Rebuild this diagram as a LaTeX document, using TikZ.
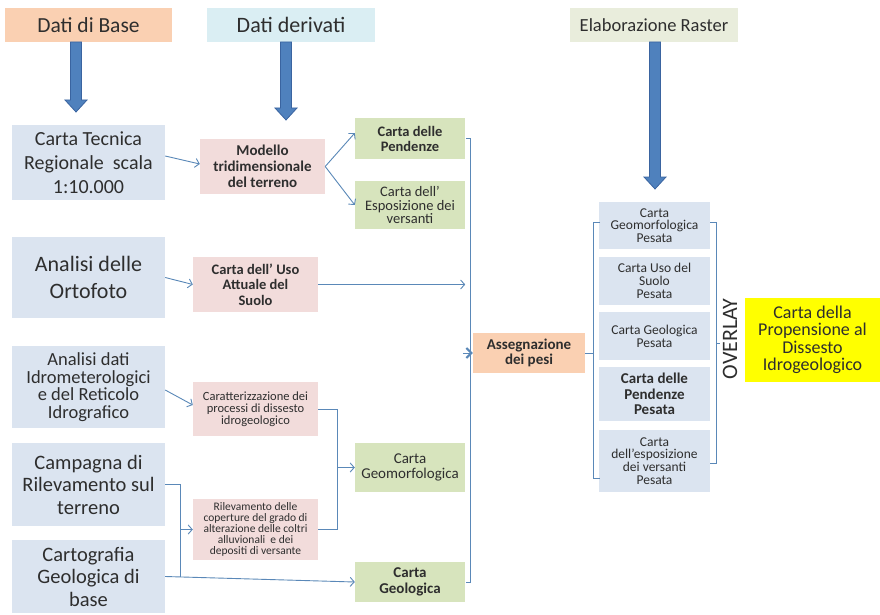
\documentclass[tikz,border=0pt]{standalone}
\usepackage{fontspec}
\setmainfont{Carlito}
\usetikzlibrary{arrows.meta}
\definecolor{txt}{HTML}{2E2E2E}
\definecolor{peach}{HTML}{FAD0B2}
\definecolor{hblue}{HTML}{DAEEF3}
\definecolor{hgreen}{HTML}{E9EDDC}
\definecolor{lblue}{HTML}{DBE4F0}
\definecolor{pink}{HTML}{F2DCDB}
\definecolor{lgreen}{HTML}{D7E4BD}
\definecolor{ylw}{HTML}{FFFF00}
\definecolor{lnk}{HTML}{5A88B8}
\definecolor{arrfill}{HTML}{4F81BD}
\definecolor{arrdraw}{HTML}{3A64A0}
\tikzset{
  box/.style={inner sep=1pt, align=center, text=txt, draw=none},
  fs/.style 2 args={font=\fontsize{#1}{#2}\selectfont},
  fsb/.style 2 args={font=\fontsize{#1}{#2}\selectfont\bfseries},
  conn/.style={draw=lnk, line width=0.9pt},
  arr/.style={conn, -{Straight Barb[length=4pt,width=9pt]}},
  bigarr/.style={fill=arrfill, draw=arrdraw, line width=0.8pt},
}
\newcommand\bigdownarrow[3]{%
  \filldraw[bigarr] ({#1-5.5},#2) -- ({#1+5.5},#2) -- ({#1+5.5},{#3-12}) -- ({#1+11},{#3-12}) -- (#1,#3) -- ({#1-11},{#3-12}) -- ({#1-5.5},{#3-12}) -- cycle;}
\begin{document}
\begin{tikzpicture}[x=1pt,y=-1pt]
\useasboundingbox[fill=white] (0,0) rectangle (880,615);

% headers
\node[box, fill=peach, fs={21.5}{24}, minimum width=167, minimum height=34] (hb) at (88.5,25) {Dati di Base};
\node[box, fill=hblue, fs={22}{24}, minimum width=168, minimum height=34] (hd) at (291,25) {Dati derivati};
\node[box, fill=hgreen, fs={18.5}{22}, minimum width=168, minimum height=34] (he) at (654,25) {Elaborazione Raster};

\bigdownarrow{76}{42}{112}
\bigdownarrow{286}{42}{120}
\bigdownarrow{655}{42}{189}

% left column
\node[box, fill=lblue, fs={20}{24}, minimum width=153, minimum height=75] (ctr) at (88.5,162.5) {Carta Tecnica\\Regionale\ \ scala\\1:10.000};
\node[box, fill=lblue, fs={22}{27}, minimum width=153, minimum height=81] (orto) at (88.5,277.5) {Analisi delle\\Ortofoto};
\node[box, fill=lblue, fs={18.5}{17.5}, minimum width=153, minimum height=82] (idro) at (88.5,387) {Analisi dati\\Idrometerologici\\e del Reticolo\\Idrografico};
\node[box, fill=lblue, fs={20.5}{22.5}, minimum width=153, minimum height=83] (camp) at (88.5,484.5) {Campagna di\\Rilevamento sul\\terreno};
\node[box, fill=lblue, fs={20.5}{22.5}, minimum width=153, minimum height=73] (cart) at (88.5,576.5) {Cartografia\\Geologica di\\base};

% pink column
\node[box, fill=pink, fsb={15}{16}, minimum width=125, minimum height=55] (mod) at (262.5,166.5) {Modello\\tridimensionale\\del terreno};
\node[box, fill=pink, fsb={14.5}{15.5}, minimum width=125, minimum height=55] (uso) at (255.5,284.5) {Carta dell' Uso\\Attuale del\\Suolo};
\node[box, fill=pink, fs={12.5}{12}, minimum width=125, minimum height=54] (car) at (255.5,409) {Caratterizzazione dei\\processi di dissesto\\idrogeologico};
\node[box, fill=pink, fs={11.5}{10.8}, minimum width=125, minimum height=61] (ril) at (255.5,529.5) {Rilevamento delle\\coperture del grado di\\alterazione delle coltri\\alluvionali\ \ e dei\\depositi di versante};

% green column
\node[box, fill=lgreen, fsb={14.5}{15}, minimum width=110, minimum height=41] (pen) at (410,138.5) {Carta delle\\Pendenze};
\node[box, fill=lgreen, fs={14.5}{13.5}, minimum width=110, minimum height=48] (esp) at (410,205) {Carta dell'\\Esposizione dei\\versanti};
\node[box, fill=lgreen, fs={15}{15}, minimum width=110, minimum height=49] (geom) at (410,467.5) {Carta\\Geomorfologica};
\node[box, fill=lgreen, fsb={15}{16}, minimum width=110, minimum height=40] (geo) at (410,582) {Carta\\Geologica};

% assegnazione
\node[box, fill=peach, fsb={15}{15.5}, minimum width=112, minimum height=40] (ass) at (529,353) {Assegnazione\\dei pesi};

% right column
\node[box, fill=lblue, fs={13.5}{12.8}, minimum width=111, minimum height=47] (p1) at (654.5,225.5) {Carta\\Geomorfologica\\Pesata};
\node[box, fill=lblue, fs={13.5}{12.8}, minimum width=111, minimum height=48] (p2) at (654.5,281) {Carta Uso del\\Suolo\\Pesata};
\node[box, fill=lblue, fs={13.5}{13}, minimum width=111, minimum height=48] (p3) at (654.5,336) {Carta Geologica\\Pesata};
\node[box, fill=lblue, fsb={15}{15.5}, minimum width=111, minimum height=54] (p4) at (654.5,394) {Carta delle\\Pendenze\\Pesata};
\node[box, fill=lblue, fs={13.5}{12.8}, minimum width=111, minimum height=62] (p5) at (654.5,461) {Carta\\dell'esposizione\\dei versanti\\Pesata};

% overlay + result
\node[box, fs={22}{24}, rotate=90] (ovl) at (730,339) {OVERLAY};
\node[box, fill=ylw, fs={18}{17.5}, minimum width=135, minimum height=84] (res) at (812.5,340) {Carta della\\Propensione al\\Dissesto\\Idrogeologico};

% connectors
\draw[arr] ([yshift=6.5]ctr.east) -- ([yshift=2.5]mod.west);
\draw[arr] (mod.east) -- ([yshift=5.5]pen.west);
\draw[arr] (mod.east) -- (esp.west);
\draw[arr] (orto.east) -- (uso.west);
\draw[arr] (uso.east) -- (uso.east -| pen.east);
\draw[arr] ([yshift=-3]idro.east) -- ([yshift=4]car.west);

\coordinate (jg) at ([xshift=-17]geom.west);
\draw[conn] (car.east) -| (jg);
\draw[conn] (ril.east) -| (jg);
\draw[arr] (jg) -- (geom.west);

\coordinate (jc) at ([xshift=15]camp.east);
\draw[conn] (camp.east) -- (jc) -- (jc |- cart.east);
\draw[arr] (jc |- ril.west) -- (ril.west);
\draw[arr] (cart.east) -- (geo.west);

% green bracket
\draw[conn] ([xshift=1]pen.east) -- ([xshift=5]pen.east) -- ([xshift=5]geo.east) -- ([xshift=1]geo.east);
\draw[draw=lnk, line width=0.9pt, -{Straight Barb[length=5pt,width=10pt,line width=2pt]}] ([xshift=-10]ass.west) -- (ass.west);

% to weighted maps
\coordinate (lb) at ([xshift=-6]p3.west |- ass.east);
\draw[conn] (ass.east) -- (lb);
\draw[conn] (600,222) -- (593,222) -- (593,478) -- (600,478);
\draw[conn] (710,222) -- (716,222) -- (716,463) -- (710,463);
\draw[conn] (716,343) -- (720,343);
\end{tikzpicture}
\end{document}
